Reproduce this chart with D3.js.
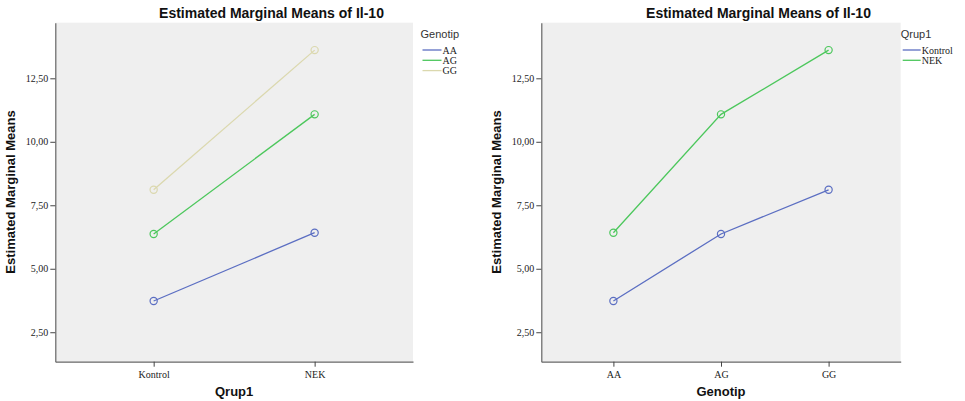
<!DOCTYPE html>
<html><head><meta charset="utf-8">
<script src="https://cdn.jsdelivr.net/npm/d3@7"></script>
<style>body{margin:0;background:#fff}svg{display:block}</style>
</head><body>
<svg id="c" width="965" height="401"></svg>
<script>
const groups = ["Kontrol", "NEK"];
const genotypes = ["AA", "AG", "GG"];
// means by genotype, for Kontrol and NEK
const kontrolMeans = [3.73, 6.37, 8.11];
const nekMeans = [6.42, 11.08, 13.61];
const yTicks = [2.5, 5, 7.5, 10, 12.5];
const title = "Estimated Marginal Means of Il-10";
const yTitle = "Estimated Marginal Means";
const genoColors = ["#5b6ec2", "#4cc75c", "#dbd8ae"];
const groupColors = ["#5b6ec2", "#4cc75c"];

const svg = d3.select("#c");
const fmt = v => d3.format(".2f")(v).replace(".", ",");

function panel(o) {
  const g = svg.append("g");
  const y = d3.scaleLinear().domain([1.34, 14.69]).range([361.7, 22.7]);
  const x = d3.scalePoint().domain(o.cats).range([o.left, o.right]).padding(o.pad);
  g.append("rect").attr("x", o.left).attr("y", 22.7).attr("width", o.right - o.left)
    .attr("height", 361.7 - 22.7).attr("fill", "#efefef");
  const ya = g.append("g").attr("transform", `translate(${o.left},0)`)
    .call(d3.axisLeft(y).tickValues(yTicks).tickFormat(fmt).tickSize(5).tickSizeOuter(0).tickPadding(2));
  const xa = g.append("g").attr("transform", "translate(0,361.7)")
    .call(d3.axisBottom(x).tickSize(5).tickSizeOuter(0).tickPadding(4));
  [ya, xa].forEach(a => {
    a.select(".domain").attr("stroke", "#666").attr("stroke-width", 1.2);
    a.selectAll(".tick line").attr("stroke", "#444");
    a.selectAll("text").attr("font-family", "'Liberation Serif', 'DejaVu Serif', serif")
      .attr("font-size", 10).attr("fill", "#222");
  });
  xa.selectAll("text").attr("font-size", 10);
  const line = d3.line().x(d => x(d.c)).y(d => y(d.v));
  o.series.forEach((s, i) => {
    const pts = o.cats.map((c, j) => ({c, v: s.values[j]}));
    g.append("path").datum(pts).attr("d", line).attr("fill", "none")
      .attr("stroke", o.colors[i]).attr("stroke-width", 1.3);
    g.selectAll(null).data(pts).enter().append("circle")
      .attr("cx", d => x(d.c)).attr("cy", d => y(d.v)).attr("r", 3.6)
      .attr("fill", "none").attr("stroke", o.colors[i]).attr("stroke-width", 1.2);
  });
  // titles
  g.append("text").attr("x", o.titleX).attr("y", 18).attr("text-anchor", "middle")
    .attr("font-family", "'Liberation Sans', Arial, sans-serif").attr("font-weight", "bold")
    .attr("font-size", 14).attr("fill", "#111").text(title);
  g.append("text").attr("transform", `translate(${o.yTitleX},192) rotate(-90)`)
    .attr("text-anchor", "middle")
    .attr("font-family", "'Liberation Sans', Arial, sans-serif").attr("font-weight", "bold")
    .attr("font-size", 13).attr("fill", "#111").text(yTitle);
  g.append("text").attr("x", (o.left + o.right) / 2).attr("y", 396).attr("text-anchor", "middle")
    .attr("font-family", "'Liberation Sans', Arial, sans-serif").attr("font-weight", "bold")
    .attr("font-size", 13).attr("fill", "#111").text(o.xTitle);
  // legend
  g.append("text").attr("x", o.legX).attr("y", 38)
    .attr("font-family", "'Liberation Sans', Arial, sans-serif")
    .attr("font-size", 11).attr("fill", "#333").text(o.legTitle);
  o.series.forEach((s, i) => {
    const ly = 50 + i * 10.3;
    g.append("line").attr("x1", o.legX + 2).attr("x2", o.legX + o.legLen).attr("y1", ly).attr("y2", ly)
      .attr("stroke", o.colors[i]).attr("stroke-width", 1.3);
    g.append("text").attr("x", o.legX + o.legLen + 1).attr("y", ly + 3.5)
      .attr("font-family", "'Liberation Serif', 'DejaVu Serif', serif")
      .attr("font-size", 10).attr("fill", "#222").text(s.name);
  });
}

panel({
  left: 55.3, right: 413, pad: 0.611, cats: groups,
  series: genotypes.map((gname, i) => ({name: gname, values: [kontrolMeans[i], nekMeans[i]]})),
  colors: genoColors, titleX: 271.5, yTitleX: 15, xTitle: "Qrup1",
  legX: 420.5, legTitle: "Genotip", legLen: 21
});
panel({
  left: 541.3, right: 900.7, pad: 0.67, cats: genotypes,
  series: [{name: "Kontrol", values: kontrolMeans}, {name: "NEK", values: nekMeans}],
  colors: groupColors, titleX: 758.5, yTitleX: 501, xTitle: "Genotip",
  legX: 900.7, legTitle: "Qrup1", legLen: 20
});
</script>
</body></html>
